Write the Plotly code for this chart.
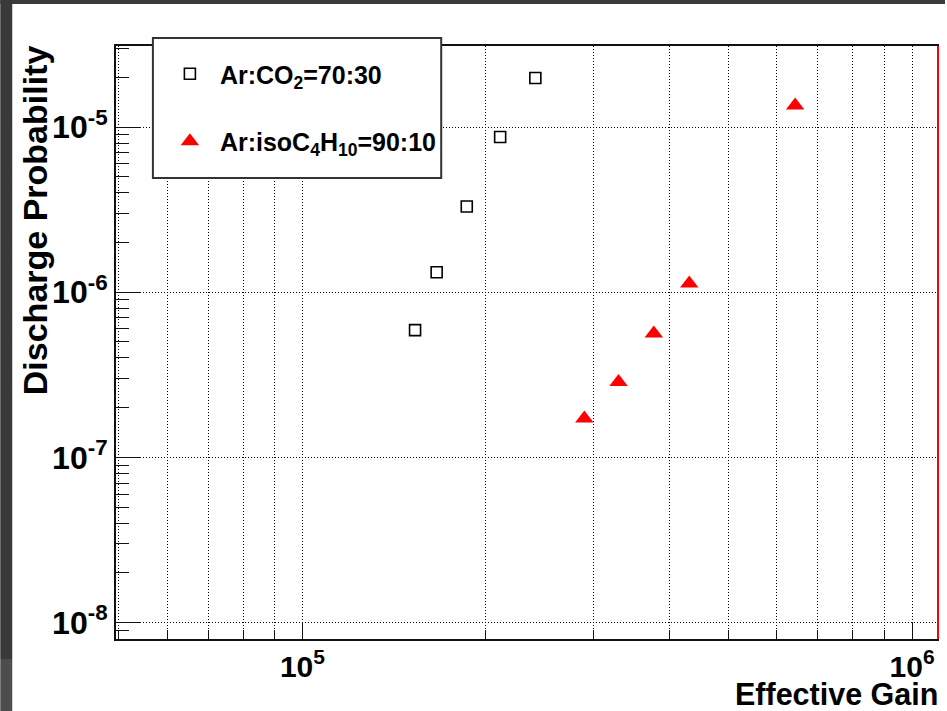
import plotly.graph_objects as go

# ---- data ----
gain_arco2 = [1.53e5, 1.66e5, 1.86e5, 2.11e5, 2.41e5]
prob_arco2 = [5.9e-7, 1.32e-6, 3.3e-6, 8.7e-6, 1.98e-5]
gain_iso = [2.90e5, 3.30e5, 3.77e5, 4.31e5, 6.43e5]
prob_iso = [1.72e-7, 2.86e-7, 5.62e-7, 1.13e-6, 1.35e-5]

name_arco2 = "Ar:CO<sub>2</sub>=70:30"
name_iso = "Ar:isoC<sub>4</sub>H<sub>10</sub>=90:10"

x_major = [1e5, 1e6]
x_major_text = ["10<sup>5</sup>", "10<sup>6</sup>"]
x_minor = [5e4, 6e4, 7e4, 8e4, 9e4, 2e5, 3e5, 4e5, 5e5, 6e5, 7e5, 8e5, 9e5]
y_major = [1e-8, 1e-7, 1e-6, 1e-5]
y_major_text = ["10<sup>-8</sup>", "10<sup>-7</sup>", "10<sup>-6</sup>", "10<sup>-5</sup>"]
y_minor = [9e-9] + [k * 1e-8 for k in range(2, 10)] + [k * 1e-7 for k in range(2, 10)] \
    + [k * 1e-6 for k in range(2, 10)] + [2e-5, 3e-5]

W, H = 947, 711
L, R, T, B = 116, 939, 46, 639
PW, PH = R - L, B - T


def px_x(p):
    return (p - L) / PW


def px_y(p):
    return (B - p) / PH


FONT = "Liberation Sans"
DOT = "1px,2px"

fig = go.Figure()
fig.add_trace(go.Scatter(
    x=gain_arco2, y=prob_arco2, mode="markers", name=name_arco2,
    legendgroup="a",
    marker=dict(symbol="square-open", size=11, color="black",
                line=dict(width=1.6, color="black")),
))
fig.add_trace(go.Scatter(
    x=gain_iso, y=prob_iso, mode="markers", name=name_iso,
    legendgroup="b",
    marker=dict(symbol="triangle-up", size=16, color="#ff0000",
                line=dict(width=0)),
))

axis_common = dict(
    type="log", showline=True, linecolor="#111", linewidth=2, mirror=True,
    ticks="inside", tickcolor="#111", tickwidth=1.2,
    showgrid=True, gridcolor="#000", griddash=DOT, gridwidth=1,
    zeroline=False, tickmode="array",
)

fig.update_xaxes(
    **axis_common, range=[4.6941, 6.0409], tickvals=x_major, ticktext=x_major_text,
    ticklen=17,
    tickfont=dict(family=FONT, size=30, color="black", weight="bold"),
    minor=dict(tickmode="array", tickvals=x_minor, ticks="inside", ticklen=9,
               tickcolor="#111", tickwidth=1.2, showgrid=True, gridcolor="#000",
               griddash=DOT, gridwidth=1),
)
fig.update_yaxes(
    **axis_common, range=[-8.0987, -4.5098], tickvals=y_major, ticktext=y_major_text,
    ticklen=25,
    tickfont=dict(family=FONT, size=32, color="black", weight="bold"),
    minor=dict(tickmode="array", tickvals=y_minor, ticks="inside", ticklen=13,
               tickcolor="#111", tickwidth=1.2, showgrid=False),
)

shapes = [
    # legend box
    dict(type="rect", xref="paper", yref="paper", x0=px_x(153), x1=px_x(442),
         y0=px_y(178), y1=px_y(38), fillcolor="white",
         line=dict(color="#333", width=2), layer="above"),
    # red right edge
    dict(type="line", xref="paper", yref="paper", xsizemode="pixel", xanchor=1,
         x0=1, x1=1, y0=0, y1=1, line=dict(color="#ff0000", width=2), layer="above"),
    # screenshot dark frame
    dict(type="rect", xref="paper", yref="paper", x0=px_x(0), x1=px_x(W),
         y0=px_y(4), y1=px_y(0), fillcolor="#3b3b3b", line=dict(width=0)),
    dict(type="rect", xref="paper", yref="paper", x0=px_x(0), x1=px_x(12),
         y0=px_y(659), y1=px_y(0), fillcolor="#393939", line=dict(width=0)),
    dict(type="rect", xref="paper", yref="paper", x0=px_x(0), x1=px_x(12),
         y0=px_y(H), y1=px_y(659), fillcolor="#4d4d4d", line=dict(width=0)),
]

annotations = [
    dict(text="Effective Gain", xref="paper", yref="paper", x=px_x(942), y=px_y(694),
         xanchor="right", yanchor="middle", showarrow=False,
         font=dict(family=FONT, size=30.5, color="black", weight="bold")),
    dict(text="Discharge Probability", xref="paper", yref="paper", x=px_x(35), y=px_y(43),
         xanchor="center", yanchor="top", textangle=-90, showarrow=False,
         font=dict(family=FONT, size=34, color="black", weight="bold")),
]

fig.update_layout(
    width=W, height=H,
    margin=dict(l=L, r=W - R, t=T, b=H - B),
    paper_bgcolor="white", plot_bgcolor="white",
    shapes=shapes, annotations=annotations,
    showlegend=True,
    legend=dict(x=px_x(160), y=px_y(51), xanchor="left", yanchor="top",
                bgcolor="rgba(0,0,0,0)", borderwidth=0,
                traceorder="grouped", tracegroupgap=32, itemwidth=50,
                font=dict(family=FONT, size=25, color="black", weight="bold")),
)

fig.write_html("out.html")
